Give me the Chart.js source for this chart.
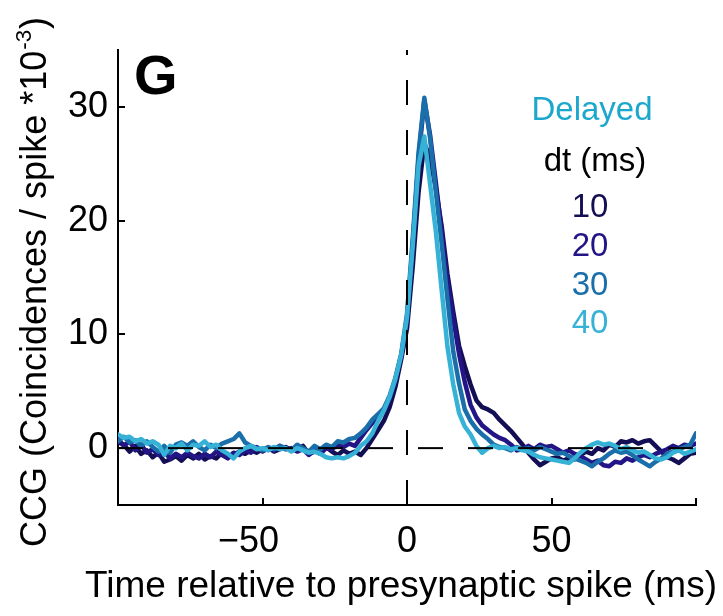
<!DOCTYPE html>
<html>
<head>
<meta charset="utf-8">
<script src="https://cdn.jsdelivr.net/npm/chart.js@4/dist/chart.umd.min.js"></script>
<style>
html,body{margin:0;padding:0;background:#fff;}
#wrap{width:723px;height:616px;position:relative;}
</style>
</head>
<body>
<div id="wrap"><canvas id="c" width="723" height="616"></canvas></div>
<script>
// ---- data ----
const times = [-100,-98,-96,-94,-92,-90,-88,-86,-84,-82,-80,-78,-76,-74,-72,-70,-68,-66,-64,-62,-60,-58,-56,-54,-52,-50,-48,-46,-44,-42,-40,-38,-36,-34,-32,-30,-28,-26,-24,-22,-20,-18,-16,-14,-12,-10,-8,-6,-4,-2,0,2,4,6,8,10,12,14,16,18,20,22,24,26,28,30,32,34,36,38,40,42,44,46,48,50,52,54,56,58,60,62,64,66,68,70,72,74,76,78,80,82,84,86,88,90,92,94,96,98,100];

const dt10 = [0.5,0.3,-0.3,0.2,-0.5,-0.2,-0.8,-0.4,-1.2,-1.0,-0.7,-1.1,-0.6,-0.9,-0.5,-1.0,-0.7,-0.9,-0.4,-0.8,-0.6,-0.3,-0.5,-0.2,-0.4,-0.1,0.0,-0.3,-0.1,0.1,-0.2,-0.1,0.2,-0.5,-0.3,-0.2,0.1,-0.3,-0.6,-0.2,-0.5,-0.3,-0.6,0.0,0.8,1.6,2.4,3.6,5.4,7.8,10.5,16.0,22.5,26.8,25.5,22.8,19.5,15.3,12.0,9.0,7.2,5.6,4.2,3.6,3.4,3.1,2.5,2.0,1.5,0.9,0.3,-0.4,-1.0,-1.5,-1.2,-0.9,-0.8,-1.1,-0.9,-1.0,-0.6,-0.3,-0.5,0.0,-0.2,0.3,0.1,0.6,0.5,0.7,0.4,0.6,0.7,0.2,-0.3,-0.8,-1.0,-1.3,-0.9,-0.5,-0.4];

const dt20 = [0.8,0.2,0.6,-0.2,0.3,-0.4,-0.1,-0.6,-0.3,-0.9,-0.5,-0.8,-0.4,-0.7,-0.9,-0.5,-0.8,-0.3,-0.6,-0.9,-0.4,-0.6,-0.2,-0.4,0.1,-0.3,0.0,-0.2,0.2,-0.1,0.0,-0.3,-0.1,-0.6,-0.2,-0.5,0.0,-0.1,0.3,0.1,0.4,0.2,0.9,1.6,2.2,2.8,3.3,4.4,6.0,8.1,11.3,18.0,25.5,30.6,27.5,23.3,19.0,14.7,11.4,8.3,5.8,3.8,2.7,2.0,1.6,1.2,0.9,0.7,0.3,-0.2,-0.1,0.2,-0.1,0.3,0.1,0.2,-0.1,-0.4,-0.2,-0.5,-0.7,-1.0,-1.3,-1.1,-1.5,-1.6,-1.2,-1.3,-0.9,-1.1,-0.8,-0.6,-0.8,-0.5,-0.3,-0.1,0.2,0.0,0.3,0.2,0.4];

const dt30 = [0.6,1.0,0.5,0.7,0.2,0.6,0.1,-0.3,0.2,-0.4,0.3,0.5,0.2,0.6,0.1,-0.2,0.3,0.0,0.4,0.6,0.8,1.3,0.5,0.2,0.0,-0.2,0.1,-0.1,0.2,0.0,-0.2,0.3,0.0,-0.3,0.2,-0.1,0.3,0.1,0.6,0.5,0.8,0.9,1.3,1.8,2.5,3.0,3.5,4.6,6.2,8.3,11.8,18.5,26.0,30.8,27.2,22.5,18.0,13.1,8.5,5.7,3.4,2.4,1.7,1.2,0.8,0.3,0.1,0.0,-0.2,0.1,-0.1,0.0,-0.2,0.1,-0.1,-0.3,-0.5,-0.4,-0.7,-0.9,-1.1,-1.3,-1.6,-1.2,-0.9,-0.5,-0.2,-0.4,-0.3,-0.6,-1.0,-1.3,-1.6,-1.2,-0.9,-0.5,-0.3,-0.1,0.1,0.3,1.3];

const dt40 = [1.2,0.9,1.0,0.6,0.8,0.4,0.6,0.3,-0.6,0.2,0.0,0.4,-0.2,0.3,0.2,0.6,0.1,0.3,-0.2,-0.5,-0.9,-0.3,0.0,0.2,-0.1,0.0,-0.2,0.1,-0.1,0.0,-0.3,0.0,-0.2,-0.4,-0.3,-0.5,-0.8,-0.9,-0.8,-0.9,-0.7,-0.4,0.2,0.6,1.3,2.4,3.3,4.5,6.1,8.2,11.5,17.8,24.8,27.4,23.2,19.0,13.9,8.9,5.6,3.1,1.9,1.2,0.2,-0.4,0.0,0.2,0.0,0.1,-0.1,0.0,-0.2,-0.3,-0.6,-0.8,-0.9,-1.0,-1.1,-1.2,-1.3,-0.9,-0.4,0.0,0.3,0.5,0.3,0.4,0.2,-0.1,0.1,-0.2,-0.4,-0.3,-0.6,-0.9,-1.0,-0.8,-0.4,-0.2,-0.5,-0.3,-0.1];

const seriesNames = ['10','20','30','40'];
const seriesColors = ['#140f55','#231585','#1a6fab','#35b2d6'];
const xTickValues = [-100,-50,0,50,100];
const xTickLabels = ['','\u221250\u2002 ','0','50',''];
const yTickValues = [0,10,20,30];
const yTickLabels = ['0','10','20','30'];
const xRange = [-100,100];
const yRange = [-5,35];
const panelLetter = 'G';
const legendTitle = 'Delayed';
const legendSubtitle = 'dt (ms)';
const xTitle = 'Time relative to presynaptic spike (ms)';
const yTitleMain = 'CCG (Coincidences / spike *10';
const yTitleSup = '-3';
const yTitleEnd = ')';

// ---- chart ----
const FONT = '"Liberation Sans", Arial, Helvetica, sans-serif';
const allSeries = [dt10, dt20, dt30, dt40];

const datasets = allSeries.map((vals, k) => ({
  label: seriesNames[k],
  data: times.map((t, i) => ({x: t, y: vals[i]})),
  borderColor: seriesColors[k],
  backgroundColor: seriesColors[k],
  borderWidth: 4.5,
  pointRadius: 0,
  tension: 0,
  borderJoinStyle: 'round',
  borderCapStyle: 'round',
  fill: false,
  order: allSeries.length - k
}));

const overlay = {
  id: 'overlay',
  afterDatasetsDraw(chart) {
    const {ctx, chartArea: a, scales: {x, y}} = chart;
    ctx.save();
    ctx.strokeStyle = '#000';
    ctx.lineWidth = 2;
    ctx.setLineDash([25, 25]);
    const y0 = y.getPixelForValue(0);
    ctx.beginPath(); ctx.moveTo(a.left, y0); ctx.lineTo(a.right, y0); ctx.stroke();
    const x0 = x.getPixelForValue(0);
    ctx.beginPath(); ctx.moveTo(x0, a.bottom); ctx.lineTo(x0, a.top); ctx.stroke();
    ctx.setLineDash([]);
    // inward tick marks
    ctx.lineWidth = 2;
    xTickValues.forEach(v => {
      const px = Math.round(x.getPixelForValue(v));
      ctx.beginPath(); ctx.moveTo(px, a.bottom); ctx.lineTo(px, a.bottom - 7); ctx.stroke();
    });
    yTickValues.forEach(v => {
      const py = Math.round(y.getPixelForValue(v));
      ctx.beginPath(); ctx.moveTo(a.left, py); ctx.lineTo(a.left + 7, py); ctx.stroke();
    });
    ctx.restore();
  },
  afterDraw(chart) {
    const {ctx} = chart;
    ctx.save();
    // panel letter
    ctx.fillStyle = '#000';
    ctx.font = 'bold 56px ' + FONT;
    ctx.textAlign = 'left';
    ctx.textBaseline = 'alphabetic';
    ctx.fillText(panelLetter, 134, 94);
    // x title
    ctx.textAlign = 'center';
    ctx.font = '37px ' + FONT;
    ctx.fillStyle = '#000';
    ctx.fillText(xTitle, 401, 597);
    // legend
    ctx.font = '33px ' + FONT;
    ctx.fillStyle = '#1ba8cc';
    ctx.fillText(legendTitle, 592, 120);
    ctx.fillStyle = '#000';
    ctx.fillText(legendSubtitle, 595, 171);
    const ys = [217, 256, 295, 333];
    seriesNames.forEach((n, k) => {
      ctx.fillStyle = seriesColors[k];
      ctx.fillText(n, 590, ys[k]);
    });
    // y title (rotated, with superscript)
    const fs = 36;
    ctx.translate(46, 547);
    ctx.rotate(-Math.PI / 2);
    ctx.textAlign = 'left';
    ctx.fillStyle = '#000';
    ctx.font = fs + 'px ' + FONT;
    ctx.fillText(yTitleMain, 0, 0);
    let w = ctx.measureText(yTitleMain).width;
    ctx.font = (fs * 0.62) + 'px ' + FONT;
    ctx.fillText(yTitleSup, w + 1, -fs * 0.42);
    w += ctx.measureText(yTitleSup).width + 2;
    ctx.font = fs + 'px ' + FONT;
    ctx.fillText(yTitleEnd, w, 0);
    ctx.restore();
  }
};

new Chart(document.getElementById('c'), {
  type: 'line',
  data: {datasets},
  options: {
    responsive: false,
    animation: false,
    devicePixelRatio: 1,
    layout: {padding: {left: 0, right: 27, top: 50, bottom: 0}},
    plugins: {legend: {display: false}, tooltip: {enabled: false}},
    scales: {
      x: {
        type: 'linear',
        min: xRange[0], max: xRange[1],
        grid: {display: false, drawTicks: false},
        border: {display: true, color: '#000', width: 2},
        afterBuildTicks: s => { s.ticks = xTickValues.map(v => ({value: v})); },
        afterFit: s => { s.height = 111; },
        ticks: {
          autoSkip: false, maxRotation: 0,
          padding: 15,
          color: '#000',
          font: {family: FONT, size: 36},
          callback: v => { const i = xTickValues.indexOf(v); return i >= 0 ? xTickLabels[i] : ''; }
        },
        title: {display: false}
      },
      y: {
        type: 'linear',
        min: yRange[0], max: yRange[1],
        grid: {display: false, drawTicks: false},
        border: {display: true, color: '#000', width: 2},
        afterBuildTicks: s => { s.ticks = yTickValues.map(v => ({value: v})); },
        afterFit: s => { s.width = 118; },
        ticks: {
          padding: 10,
          color: '#000',
          font: {family: FONT, size: 36},
          callback: v => { const i = yTickValues.indexOf(v); return i >= 0 ? yTickLabels[i] : ''; }
        }
      }
    }
  },
  plugins: [overlay]
});
</script>
</body>
</html>
